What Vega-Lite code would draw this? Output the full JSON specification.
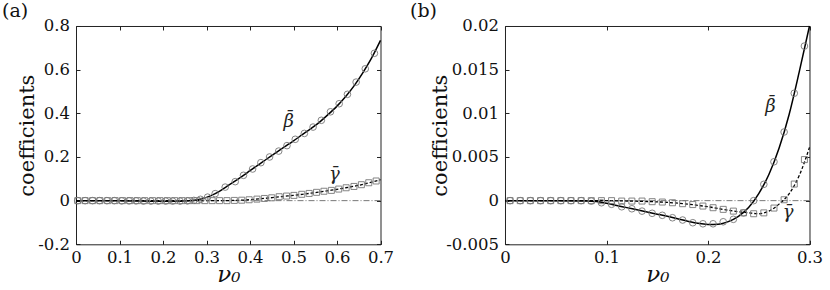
{
  "$schema": "https://vega.github.io/schema/vega-lite/v6.json",
  "background": "white",
  "padding": {"left": 1, "top": 1, "right": 0, "bottom": 0},
  "config": {
    "locale": {"number": {"decimal": ".", "thousands": ",", "grouping": [3], "currency": ["$", ""], "minus": "-"}},
    "view": {"stroke": "#222", "strokeWidth": 1},
    "font": "DejaVu Serif",
    "axis": {"domain": false, "grid": false, "tickSize": -4, "tickColor": "#222", "tickWidth": 1,
      "labelFont": "DejaVu Serif", "labelFontSize": 16.5, "labelColor": "#111", "labelFlush": false, "labelOverlap": false,
      "titleFont": "DejaVu Serif", "titleColor": "#111", "titleFontWeight": "normal"},
    "axisX": {"labelPadding": 9, "titleFontSize": 23, "titlePadding": -2},
    "axisY": {"labelPadding": 10.5, "titleFontSize": 21},
    "title": {"font": "DejaVu Serif", "fontSize": 19, "fontWeight": "normal", "color": "#111", "anchor": "start", "frame": "group"}
  },
  "datasets": {
    "aLineB": [
      {"nu":0,"v":0},{"nu":0.1,"v":-0.001},{"nu":0.2,"v":-0.003},{"nu":0.24,"v":-0.003},{"nu":0.26,"v":-0.001},{"nu":0.28,"v":0.004},{"nu":0.3,"v":0.015},{"nu":0.32,"v":0.032},{"nu":0.34,"v":0.056},{"nu":0.36,"v":0.082},{"nu":0.38,"v":0.109},{"nu":0.4,"v":0.137},{"nu":0.42,"v":0.165},{"nu":0.44,"v":0.193},{"nu":0.46,"v":0.22},{"nu":0.48,"v":0.247},{"nu":0.5,"v":0.274},{"nu":0.52,"v":0.302},{"nu":0.54,"v":0.33},{"nu":0.56,"v":0.36},{"nu":0.58,"v":0.395},{"nu":0.6,"v":0.433},{"nu":0.62,"v":0.477},{"nu":0.64,"v":0.528},{"nu":0.66,"v":0.588},{"nu":0.68,"v":0.655},{"nu":0.7,"v":0.734}
    ],
    "aLineG": [
      {"nu":0,"v":0},{"nu":0.34,"v":0},{"nu":0.36,"v":0.0008},{"nu":0.38,"v":0.002},{"nu":0.4,"v":0.0045},{"nu":0.42,"v":0.008},{"nu":0.44,"v":0.0115},{"nu":0.46,"v":0.016},{"nu":0.48,"v":0.02},{"nu":0.5,"v":0.024},{"nu":0.52,"v":0.029},{"nu":0.54,"v":0.034},{"nu":0.56,"v":0.04},{"nu":0.58,"v":0.046},{"nu":0.6,"v":0.052},{"nu":0.62,"v":0.059},{"nu":0.64,"v":0.066},{"nu":0.66,"v":0.075},{"nu":0.68,"v":0.085},{"nu":0.7,"v":0.096}
    ],
    "aPtsB": [
      {"nu":0.004,"v":0},{"nu":0.021,"v":0},{"nu":0.038,"v":0},{"nu":0.054,"v":0},{"nu":0.071,"v":0},{"nu":0.088,"v":0},{"nu":0.105,"v":-0.001},{"nu":0.122,"v":-0.001},{"nu":0.138,"v":-0.001},{"nu":0.155,"v":-0.002},{"nu":0.172,"v":-0.002},{"nu":0.189,"v":-0.002},{"nu":0.206,"v":-0.002},{"nu":0.222,"v":-0.002},{"nu":0.239,"v":-0.002},{"nu":0.256,"v":-0.001},{"nu":0.271,"v":0.001},{"nu":0.286,"v":0.006},{"nu":0.3025,"v":0.016},{"nu":0.32,"v":0.032},{"nu":0.343,"v":0.062},{"nu":0.366,"v":0.087},{"nu":0.385,"v":0.116},{"nu":0.406,"v":0.145},{"nu":0.425,"v":0.174},{"nu":0.445,"v":0.2},{"nu":0.466,"v":0.227},{"nu":0.485,"v":0.252},{"nu":0.504,"v":0.281},{"nu":0.525,"v":0.308},{"nu":0.545,"v":0.337},{"nu":0.564,"v":0.368},{"nu":0.585,"v":0.407},{"nu":0.605,"v":0.444},{"nu":0.624,"v":0.487},{"nu":0.644,"v":0.543},{"nu":0.665,"v":0.604},{"nu":0.686,"v":0.675}
    ],
    "aPtsG": [
      {"nu":0.004,"v":0},{"nu":0.021,"v":0},{"nu":0.038,"v":0},{"nu":0.055,"v":0},{"nu":0.073,"v":0},{"nu":0.09,"v":0},{"nu":0.107,"v":0},{"nu":0.124,"v":0},{"nu":0.141,"v":0},{"nu":0.158,"v":0},{"nu":0.176,"v":0},{"nu":0.193,"v":0},{"nu":0.21,"v":0},{"nu":0.227,"v":0},{"nu":0.244,"v":0},{"nu":0.261,"v":0},{"nu":0.278,"v":0},{"nu":0.296,"v":0},{"nu":0.313,"v":0},{"nu":0.33,"v":0},{"nu":0.347,"v":0},{"nu":0.364,"v":0.001},{"nu":0.381,"v":0.002},{"nu":0.398,"v":0.004},{"nu":0.416,"v":0.007},{"nu":0.433,"v":0.01},{"nu":0.45,"v":0.013},{"nu":0.467,"v":0.018},{"nu":0.484,"v":0.021},{"nu":0.501,"v":0.024},{"nu":0.519,"v":0.029},{"nu":0.536,"v":0.033},{"nu":0.553,"v":0.038},{"nu":0.57,"v":0.043},{"nu":0.587,"v":0.047},{"nu":0.604,"v":0.053},{"nu":0.621,"v":0.059},{"nu":0.639,"v":0.065},{"nu":0.656,"v":0.073},{"nu":0.673,"v":0.082},{"nu":0.69,"v":0.09}
    ],
    "aLab": [
      {"nu":0.489,"v":0.375,"t":"¯\nβ"},{"nu":0.594,"v":0.118,"t":"γ̄"}
    ],
    "bLineB": [
      {"nu":0,"v":0},{"nu":0.05,"v":0},{"nu":0.08,"v":-0.00003},{"nu":0.09,"v":-0.0001},{"nu":0.1,"v":-0.0003},{"nu":0.11,"v":-0.00055},{"nu":0.12,"v":-0.0008},{"nu":0.13,"v":-0.00105},{"nu":0.14,"v":-0.0013},{"nu":0.15,"v":-0.00155},{"nu":0.16,"v":-0.0018},{"nu":0.17,"v":-0.00207},{"nu":0.18,"v":-0.00235},{"nu":0.19,"v":-0.0026},{"nu":0.2,"v":-0.00272},{"nu":0.21,"v":-0.0027},{"nu":0.22,"v":-0.0024},{"nu":0.23,"v":-0.0018},{"nu":0.24,"v":-0.0008},{"nu":0.25,"v":0.0008},{"nu":0.26,"v":0.003},{"nu":0.27,"v":0.006},{"nu":0.28,"v":0.0099},{"nu":0.29,"v":0.0148},{"nu":0.3,"v":0.02}
    ],
    "bLineG": [
      {"nu":0,"v":0},{"nu":0.1,"v":0},{"nu":0.12,"v":-0.00004},{"nu":0.14,"v":-0.0001},{"nu":0.16,"v":-0.0002},{"nu":0.18,"v":-0.0004},{"nu":0.2,"v":-0.0007},{"nu":0.22,"v":-0.0011},{"nu":0.24,"v":-0.0014},{"nu":0.25,"v":-0.0015},{"nu":0.26,"v":-0.0012},{"nu":0.27,"v":-0.0004},{"nu":0.28,"v":0.0008},{"nu":0.29,"v":0.0029},{"nu":0.3,"v":0.0061}
    ],
    "bPtsB": [
      {"nu":0.005,"v":0},{"nu":0.015,"v":0},{"nu":0.025,"v":0},{"nu":0.035,"v":0},{"nu":0.045,"v":0},{"nu":0.055,"v":0},{"nu":0.065,"v":0},{"nu":0.075,"v":0},{"nu":0.085,"v":-0.00005},{"nu":0.095,"v":-0.00024},{"nu":0.105,"v":-0.00042},{"nu":0.115,"v":-0.0007},{"nu":0.125,"v":-0.00093},{"nu":0.135,"v":-0.0012},{"nu":0.145,"v":-0.00145},{"nu":0.155,"v":-0.00168},{"nu":0.165,"v":-0.00196},{"nu":0.175,"v":-0.00222},{"nu":0.185,"v":-0.00253},{"nu":0.195,"v":-0.00265},{"nu":0.205,"v":-0.00265},{"nu":0.215,"v":-0.00242},{"nu":0.225,"v":-0.00214},{"nu":0.235,"v":-0.0014},{"nu":0.245,"v":0},{"nu":0.255,"v":0.00187},{"nu":0.265,"v":0.00445},{"nu":0.275,"v":0.00786},{"nu":0.285,"v":0.0123},{"nu":0.295,"v":0.0177}
    ],
    "bPtsG": [
      {"nu":0.005,"v":0},{"nu":0.015,"v":0},{"nu":0.025,"v":0},{"nu":0.035,"v":0},{"nu":0.045,"v":0},{"nu":0.055,"v":0},{"nu":0.065,"v":0},{"nu":0.075,"v":0},{"nu":0.085,"v":0},{"nu":0.095,"v":0},{"nu":0.105,"v":0},{"nu":0.115,"v":-0.00005},{"nu":0.125,"v":-0.00005},{"nu":0.135,"v":-0.00005},{"nu":0.145,"v":-0.00012},{"nu":0.155,"v":-0.00016},{"nu":0.165,"v":-0.00024},{"nu":0.175,"v":-0.00035},{"nu":0.185,"v":-0.00045},{"nu":0.195,"v":-0.00062},{"nu":0.205,"v":-0.00081},{"nu":0.215,"v":-0.001},{"nu":0.225,"v":-0.0012},{"nu":0.235,"v":-0.0014},{"nu":0.245,"v":-0.0015},{"nu":0.255,"v":-0.0014},{"nu":0.265,"v":-0.00085},{"nu":0.275,"v":0.0001},{"nu":0.285,"v":0.0019},{"nu":0.295,"v":0.0047}
    ],
    "bLab": [
      {"nu":0.2615,"v":0.0111,"t":"¯\nβ"},{"nu":0.279,"v":-0.0014,"t":"γ̄"}
    ],
    "zero": [{"v":0}]
  },
  "spacing": 124,
  "bounds": "flush",
  "hconcat": [
    {
      "width": 304.5, "height": 218.3,
      "title": {"text": "(a)", "dx": -74, "offset": -3},
      "resolve": {"axis": {"x": "independent", "y": "independent"}},
      "layer": [
        {
          "layer": [
            {"data": {"name": "zero"}, "mark": {"type": "rule", "color": "#555", "strokeWidth": 0.8, "strokeDash": [6, 2, 1, 2]},
             "encoding": {"y": {"field": "v", "type": "quantitative", "title": "coefficients", "scale": {"domain": [-0.2, 0.8], "nice": false, "zero": false}, "axis": {"values": [-0.2, 0, 0.2, 0.4, 0.6, 0.8], "format": "~f", "titlePadding": 0}}}},
            {"data": {"name": "aLineB"}, "mark": {"type": "line", "color": "#000", "strokeWidth": 1.5, "interpolate": "monotone"},
             "encoding": {"x": {"field": "nu", "type": "quantitative", "title": "ν₀", "scale": {"domain": [0, 0.7], "nice": false, "zero": false}, "axis": {"values": [0, 0.1, 0.2, 0.3, 0.4, 0.5, 0.6, 0.7], "format": "~f", "titleFontStyle": "italic"}},
               "y": {"field": "v", "type": "quantitative", "title": "coefficients"}}},
            {"data": {"name": "aLineG"}, "mark": {"type": "line", "color": "#000", "strokeWidth": 1.3, "strokeDash": [3, 2], "interpolate": "monotone"},
             "encoding": {"x": {"field": "nu", "type": "quantitative", "title": "ν₀"}, "y": {"field": "v", "type": "quantitative", "title": "coefficients"}}},
            {"data": {"name": "aPtsB"}, "mark": {"type": "point", "shape": "circle", "filled": false, "size": 44, "color": "#777", "strokeWidth": 0.9, "opacity": 1},
             "encoding": {"x": {"field": "nu", "type": "quantitative", "title": "ν₀"}, "y": {"field": "v", "type": "quantitative", "title": "coefficients"}}},
            {"data": {"name": "aPtsG"}, "mark": {"type": "point", "shape": "square", "filled": false, "size": 36, "color": "#777", "strokeWidth": 0.9, "opacity": 1},
             "encoding": {"x": {"field": "nu", "type": "quantitative", "title": "ν₀"}, "y": {"field": "v", "type": "quantitative", "title": "coefficients"}}},
            {"data": {"name": "aLab"}, "mark": {"type": "text", "font": "DejaVu Serif", "fontStyle": "italic", "fontSize": 18, "color": "#222", "lineBreak": "\n", "lineHeight": 3},
             "encoding": {"x": {"field": "nu", "type": "quantitative", "title": "ν₀"}, "y": {"field": "v", "type": "quantitative", "title": "coefficients"}, "text": {"field": "t"}}}
          ]
        },
        {"data": {"name": "aLineB"}, "mark": {"type": "point", "opacity": 0},
         "encoding": {
           "x": {"field": "nu", "type": "quantitative", "scale": {"domain": [0, 0.7], "nice": false, "zero": false}, "axis": {"orient": "top", "labels": false, "title": null, "values": [0, 0.1, 0.2, 0.3, 0.4, 0.5, 0.6, 0.7]}},
           "y": {"field": "v", "type": "quantitative", "scale": {"domain": [-0.2, 0.8], "nice": false, "zero": false}, "axis": {"orient": "right", "labels": false, "title": null, "values": [-0.2, 0, 0.2, 0.4, 0.6, 0.8]}}}}
      ]
    },
    {
      "width": 304.5, "height": 218.3,
      "title": {"text": "(b)", "dx": -95, "offset": -3},
      "resolve": {"axis": {"x": "independent", "y": "independent"}},
      "layer": [
        {
          "layer": [
            {"data": {"name": "zero"}, "mark": {"type": "rule", "color": "#555", "strokeWidth": 0.8, "strokeDash": [6, 2, 1, 2]},
             "encoding": {"y": {"field": "v", "type": "quantitative", "title": "coefficients", "scale": {"domain": [-0.005, 0.02], "nice": false, "zero": false}, "axis": {"values": [-0.005, 0, 0.005, 0.01, 0.015, 0.02], "format": "~f", "titlePadding": -5}}}},
            {"data": {"name": "bLineB"}, "mark": {"type": "line", "color": "#000", "strokeWidth": 1.5, "interpolate": "monotone"},
             "encoding": {"x": {"field": "nu", "type": "quantitative", "title": "ν₀", "scale": {"domain": [0, 0.3], "nice": false, "zero": false}, "axis": {"values": [0, 0.1, 0.2, 0.3], "format": "~f", "titleFontStyle": "italic"}},
               "y": {"field": "v", "type": "quantitative", "title": "coefficients"}}},
            {"data": {"name": "bLineG"}, "mark": {"type": "line", "color": "#000", "strokeWidth": 1.3, "strokeDash": [3, 2], "interpolate": "monotone"},
             "encoding": {"x": {"field": "nu", "type": "quantitative", "title": "ν₀"}, "y": {"field": "v", "type": "quantitative", "title": "coefficients"}}},
            {"data": {"name": "bPtsB"}, "mark": {"type": "point", "shape": "circle", "filled": false, "size": 44, "color": "#777", "strokeWidth": 0.9, "opacity": 1},
             "encoding": {"x": {"field": "nu", "type": "quantitative", "title": "ν₀"}, "y": {"field": "v", "type": "quantitative", "title": "coefficients"}}},
            {"data": {"name": "bPtsG"}, "mark": {"type": "point", "shape": "square", "filled": false, "size": 36, "color": "#777", "strokeWidth": 0.9, "opacity": 1},
             "encoding": {"x": {"field": "nu", "type": "quantitative", "title": "ν₀"}, "y": {"field": "v", "type": "quantitative", "title": "coefficients"}}},
            {"data": {"name": "bLab"}, "mark": {"type": "text", "font": "DejaVu Serif", "fontStyle": "italic", "fontSize": 18, "color": "#222", "lineBreak": "\n", "lineHeight": 3},
             "encoding": {"x": {"field": "nu", "type": "quantitative", "title": "ν₀"}, "y": {"field": "v", "type": "quantitative", "title": "coefficients"}, "text": {"field": "t"}}}
          ]
        },
        {"data": {"name": "bLineB"}, "mark": {"type": "point", "opacity": 0},
         "encoding": {
           "x": {"field": "nu", "type": "quantitative", "scale": {"domain": [0, 0.3], "nice": false, "zero": false}, "axis": {"orient": "top", "labels": false, "title": null, "values": [0, 0.1, 0.2, 0.3]}},
           "y": {"field": "v", "type": "quantitative", "scale": {"domain": [-0.005, 0.02], "nice": false, "zero": false}, "axis": {"orient": "right", "labels": false, "title": null, "values": [-0.005, 0, 0.005, 0.01, 0.015, 0.02]}}}}
      ]
    }
  ]
}
